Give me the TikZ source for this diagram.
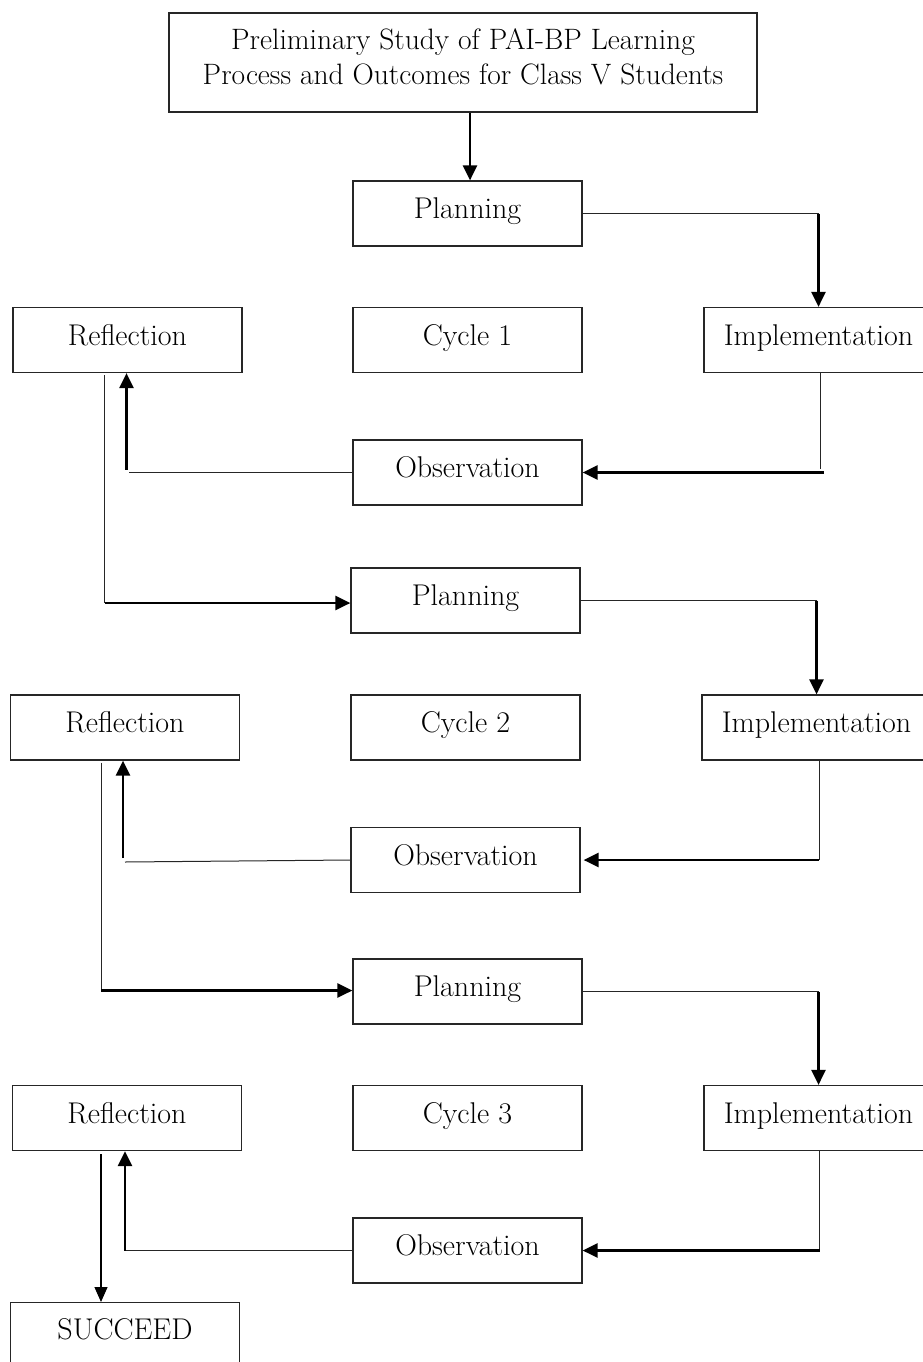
\documentclass[tikz,border=0pt]{standalone}
\usetikzlibrary{arrows.meta,calc}
\begin{document}
\begin{tikzpicture}[x=1pt,y=-1pt,
  box/.style={draw=black!85, line width=1.2pt, minimum width=229pt, minimum height=65pt, inner sep=0pt,
    text height=20pt, text depth=10pt, font=\fontsize{30}{36}\selectfont},
  thin/.style={line width=1pt, draw=black!85},
  arr/.style={line width=2.5pt, -{Triangle[length=15pt,width=14pt]}},
  tarr/.style={line width=1.2pt, -{Triangle[length=15pt,width=13pt]}}]
\useasboundingbox (0,0) rectangle (923,1362);
\clip (0,0) rectangle (923,1362);
% top box
\node[draw=black!85, line width=1.2pt, minimum width=588pt, minimum height=99pt, inner sep=0pt] (top) at (463,62.5) {};
\node[align=center, font=\fontsize{29.5}{35}\selectfont] (toptext) at (463,57) {Preliminary Study of PAI-BP Learning\\Process and Outcomes for Class V Students};
% cycle 1
\node[box] (P1) at (467.5,213.5) {Planning};
\node[box] (R1) at (127.5,340) {Reflection};
\node[box] (C1) at (467.5,340) {Cycle 1};
\node[box] (I1) at (818.5,340) {Implementation};
\node[box] (O1) at (467.5,472.5) {Observation};
% cycle 2
\node[box] (P2) at (465.5,600.5) {Planning};
\node[box] (R2) at (125,727.5) {Reflection};
\node[box] (C2) at (465.5,727.5) {Cycle 2};
\node[box] (I2) at (816.5,727.5) {Implementation};
\node[box] (O2) at (465.5,860) {Observation};
% cycle 3
\node[box] (P3) at (467.5,991.5) {Planning};
\node[box] (R3) at (127,1118) {Reflection};
\node[box] (C3) at (467.5,1118) {Cycle 3};
\node[box] (I3) at (818.5,1118) {Implementation};
\node[box] (O3) at (467.5,1250.5) {Observation};
\node[box, minimum height=100pt, anchor=north] (S) at (125,1302) {};
\node[font=\fontsize{30}{36}\selectfont] (Stext) at (125,1329) {SUCCEED};
% top to planning
\coordinate (a1) at ($(P1.north)+(2.5,0)$);
\draw[arr] (a1 |- top.south) -- (a1);
% cycle 1 connectors
\coordinate (p1c) at ($(I1.north)+(0,0)$);
\draw[thin] (P1.east) -- (P1.east -| p1c);
\draw[arr] (P1.east -| p1c) -- (p1c);
\coordinate (i1c) at ($(I1.south)+(2,0)$);
\draw[thin] (i1c) -- ($(i1c |- O1.east)+(0,-4)$);
\draw[arr] ($(O1.east)+(241,0)$) -- (O1.east);
\coordinate (r1u) at ($(R1.south)+(-1,0)$);
\draw[thin] (O1.west) -- ($(r1u |- O1.west)+(2,0)$);
\draw[arr] ($(r1u |- O1.west)+(0,-3)$) -- (r1u);
\coordinate (r1d) at ($(R1.south)+(-23,2)$);
\draw[thin] (r1d) -- ($(r1d |- P2.west)+(0,2)$);
\draw[arr] ($(r1d |- P2.west)+(0,2.5)$) -- ($(P2.west)+(0,2.5)$);
% cycle 2 connectors
\draw[thin] (P2.east) -- (P2.east -| I2.north);
\draw[arr] (P2.east -| I2.north) -- (I2.north);
\coordinate (i2c) at ($(I2.south)+(2.5,0)$);
\draw[thin] (i2c) -- (i2c |- O2.east);
\draw[arr] (i2c |- O2.east) -- ($(O2.east)+(3,0)$);
\coordinate (r2u) at ($(R2.south)+(-2,0)$);
\draw[thin] (O2.west) -- ($(r2u |- O2.west)+(2,2)$);
\draw[arr] ($(r2u |- O2.west)+(0,-2)$) -- (r2u);
\coordinate (r2d) at ($(R2.south)+(-24,2)$);
\draw[thin] (r2d) -- ($(r2d |- P3.west)+(0,-1)$);
\draw[arr] ($(r2d |- P3.west)+(0,-1)$) -- ($(P3.west)+(0,-1)$);
% cycle 3 connectors
\draw[thin] (P3.east) -- (P3.east -| I3.north);
\draw[arr] (P3.east -| I3.north) -- (I3.north);
\coordinate (i3c) at ($(I3.south)+(1,0)$);
\draw[thin] (i3c) -- (i3c |- O3.east);
\draw[arr] (i3c |- O3.east) -- (O3.east);
\coordinate (r3u) at ($(R3.south)+(-2,0)$);
\draw[thin] (O3.west) -- (r3u |- O3.west);
\draw[arr] (r3u |- O3.west) -- (r3u);
\coordinate (r3d) at ($(R3.south)+(-26,3)$);
\draw[tarr] (r3d) -- (r3d |- S.north);
\end{tikzpicture}
\end{document}
